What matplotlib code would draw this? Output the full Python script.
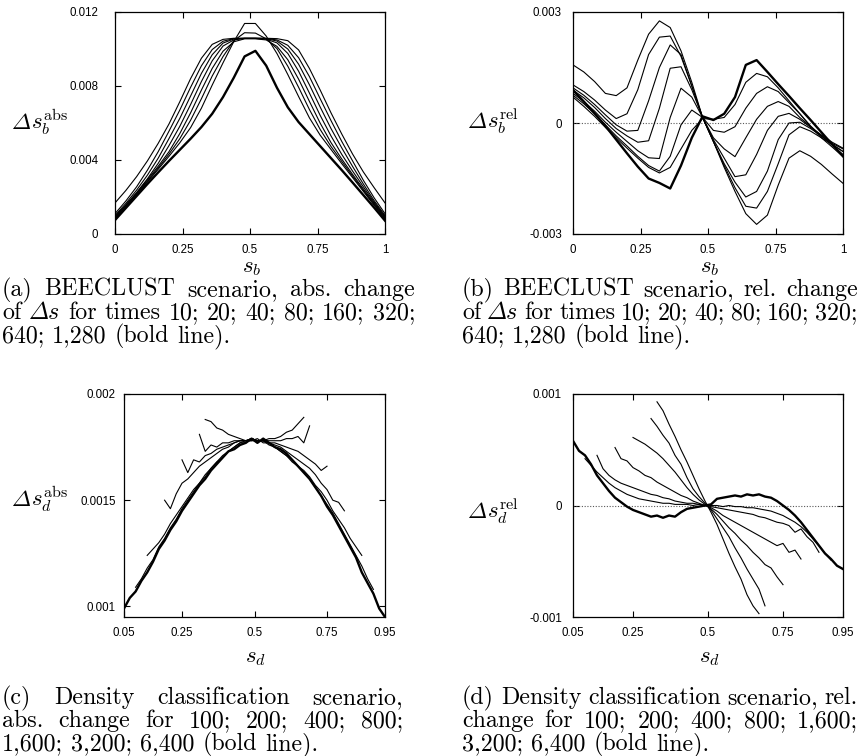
import matplotlib
matplotlib.use("Agg")
import matplotlib.pyplot as plt

plt.rcParams['mathtext.fontset'] = 'cm'
plt.rcParams['font.family'] = ['Liberation Sans', 'DejaVu Sans']

W, H = 861, 756

# ---- panel (a)/(b): BEECLUST, times 10 ... 1280 (last one bold)
s_b = [0.00, 0.04, 0.08, 0.12, 0.16, 0.20, 0.24, 0.28, 0.32, 0.36, 0.40, 0.44, 0.48,
       0.52, 0.56, 0.60, 0.64, 0.68, 0.72, 0.76, 0.80, 0.84, 0.88, 0.92, 0.96, 1.00]

abs_b_10 = [0.00168, 0.00235, 0.00310, 0.00395, 0.00490, 0.00595, 0.00715, 0.00840, 0.00950, 0.01025, 0.01052, 0.01058, 0.01058,
            0.01058, 0.01058, 0.01056, 0.01045, 0.00995, 0.00895, 0.00778, 0.00655, 0.00540, 0.00432, 0.00335, 0.00250, 0.00168]
abs_b_20 = [0.00110, 0.00178, 0.00255, 0.00345, 0.00445, 0.00556, 0.00670, 0.00793, 0.00909, 0.00997, 0.01042, 0.01056, 0.01058,
            0.01058, 0.01057, 0.01049, 0.01020, 0.00953, 0.00851, 0.00731, 0.00613, 0.00500, 0.00395, 0.00290, 0.00195, 0.00110]
abs_b_40 = [0.00100, 0.00165, 0.00237, 0.00318, 0.00410, 0.00516, 0.00625, 0.00746, 0.00868, 0.00969, 0.01032, 0.01054, 0.01058,
            0.01058, 0.01056, 0.01043, 0.01000, 0.00918, 0.00807, 0.00686, 0.00570, 0.00465, 0.00365, 0.00270, 0.00180, 0.00100]
abs_b_80 = [0.00095, 0.00157, 0.00224, 0.00298, 0.00382, 0.00478, 0.00582, 0.00700, 0.00824, 0.00936, 0.01016, 0.01049, 0.01057,
            0.01057, 0.01053, 0.01033, 0.00976, 0.00880, 0.00762, 0.00641, 0.00530, 0.00430, 0.00340, 0.00255, 0.00172, 0.00095]
abs_b_160 = [0.00090, 0.00155, 0.00222, 0.00293, 0.00366, 0.00445, 0.00543, 0.00655, 0.00778, 0.00895, 0.00988, 0.01039, 0.01055,
             0.01055, 0.01049, 0.01014, 0.00942, 0.00837, 0.00717, 0.00599, 0.00494, 0.00405, 0.00322, 0.00243, 0.00166, 0.00090]
abs_b_320 = [0.00085, 0.00150, 0.00217, 0.00286, 0.00357, 0.00432, 0.00515, 0.00615, 0.00731, 0.00854, 0.00959, 0.01045, 0.01088,
             0.01086, 0.01055, 0.01002, 0.00907, 0.00793, 0.00673, 0.00565, 0.00473, 0.00392, 0.00313, 0.00236, 0.00160, 0.00085]
abs_b_640 = [0.00080, 0.00146, 0.00213, 0.00281, 0.00350, 0.00420, 0.00493, 0.00575, 0.00680, 0.00805, 0.00925, 0.01040, 0.01138,
             0.01138, 0.01070, 0.00975, 0.00862, 0.00743, 0.00628, 0.00534, 0.00457, 0.00380, 0.00305, 0.00230, 0.00155, 0.00080]
abs_b_1280 = [0.00075, 0.00140, 0.00205, 0.00270, 0.00333, 0.00395, 0.00455, 0.00515, 0.00578, 0.00650, 0.00740, 0.00845, 0.00960,
              0.00990, 0.00910, 0.00790, 0.00685, 0.00605, 0.00540, 0.00475, 0.00410, 0.00345, 0.00278, 0.00210, 0.00142, 0.00072]

rel_b_10 = [0.00157, 0.00138, 0.00112, 0.00080, 0.00074, 0.00095, 0.00170, 0.00240, 0.00276, 0.00258, 0.00195, 0.00110, 0.00015,
            -0.00050, -0.00120, -0.00185, -0.00245, -0.00274, -0.00249, -0.00168, -0.00095, -0.00075, -0.00090, -0.00112, -0.00138, -0.00163]
rel_b_20 = [0.00103, 0.00085, 0.00062, 0.00035, 0.00012, 0.00025, 0.00090, 0.00185, 0.00232, 0.00235, 0.00180, 0.00100, 0.00015,
            -0.00050, -0.00115, -0.00175, -0.00225, -0.00230, -0.00185, -0.00110, -0.00032, -0.00010, -0.00022, -0.00040, -0.00058, -0.00077]
rel_b_40 = [0.00095, 0.00075, 0.00050, 0.00022, -0.00005, -0.00022, -0.00020, 0.00060, 0.00150, 0.00211, 0.00185, 0.00100, 0.00015,
            -0.00050, -0.00110, -0.00160, -0.00200, -0.00185, -0.00130, -0.00045, 0.00000, 0.00002, -0.00015, -0.00035, -0.00055, -0.00070]
rel_b_80 = [0.00089, 0.00068, 0.00042, 0.00012, -0.00015, -0.00035, -0.00052, -0.00048, 0.00040, 0.00148, 0.00152, 0.00090, 0.00015,
            -0.00045, -0.00095, -0.00145, -0.00140, -0.00085, -0.00020, 0.00018, 0.00026, 0.00010, -0.00012, -0.00032, -0.00052, -0.00068]
rel_b_160 = [0.00080, 0.00058, 0.00032, 0.00002, -0.00025, -0.00050, -0.00075, -0.00094, -0.00096, 0.00015, 0.00094, 0.00070, 0.00015,
             -0.00040, -0.00070, -0.00091, -0.00040, 0.00010, 0.00045, 0.00058, 0.00045, 0.00015, -0.00010, -0.00035, -0.00058, -0.00077]
rel_b_320 = [0.00075, 0.00052, 0.00025, -0.00005, -0.00035, -0.00062, -0.00090, -0.00115, -0.00130, -0.00090, -0.00005, 0.00035, 0.00015,
             -0.00020, -0.00025, -0.00010, 0.00040, 0.00080, 0.00098, 0.00085, 0.00055, 0.00025, -0.00008, -0.00035, -0.00060, -0.00085]
rel_b_640 = [0.00070, 0.00045, 0.00018, -0.00012, -0.00040, -0.00068, -0.00095, -0.00120, -0.00135, -0.00120, -0.00070, -0.00020, 0.00012,
             0.00010, 0.00015, 0.00050, 0.00110, 0.00134, 0.00125, 0.00095, 0.00060, 0.00025, -0.00010, -0.00040, -0.00065, -0.00091]
rel_b_1280 = [0.00089, 0.00058, 0.00026, -0.00008, -0.00045, -0.00082, -0.00118, -0.00150, -0.00162, -0.00177, -0.00115, -0.00040, 0.00018,
              0.00008, 0.00025, 0.00070, 0.00157, 0.00170, 0.00138, 0.00105, 0.00073, 0.00040, 0.00008, -0.00025, -0.00058, -0.00090]

# ---- panel (c)/(d): density classification, 100 ... 6400 (last one bold)
s_d = [0.05, 0.07, 0.09, 0.11, 0.13, 0.15, 0.17, 0.19, 0.21, 0.23, 0.25, 0.27, 0.29, 0.31, 0.33, 0.35,
       0.37, 0.39, 0.41, 0.43, 0.45, 0.47, 0.49, 0.51, 0.53, 0.55, 0.57, 0.59, 0.61, 0.63, 0.65, 0.67,
       0.69, 0.71, 0.73, 0.75, 0.77, 0.79, 0.81, 0.83, 0.85, 0.87, 0.89, 0.91, 0.93, 0.95]
# first index into s_d for each run
start_d = {100: 14, 200: 13, 400: 10, 800: 7, 1600: 4, 3200: 2, 6400: 0}

abs_d = {
    100: [0.00188, 0.00187, 0.00184, 0.00183, 0.00181, 0.00180, 0.00179, 0.00178, 0.00178, 0.00178, 0.00178,
          0.00179, 0.00179, 0.00180, 0.00182, 0.00183, 0.00186, 0.00189],
    200: [0.00181, 0.00173, 0.00176, 0.00175, 0.00177, 0.00177, 0.00178, 0.00178, 0.00178, 0.00179, 0.00178,
          0.00178, 0.00178, 0.00178, 0.00178, 0.00179, 0.00179, 0.00180, 0.00177, 0.00185],
    400: [0.00169, 0.00163, 0.00169, 0.00168, 0.00171, 0.00172, 0.00174, 0.00175, 0.00176, 0.00177, 0.00178,
          0.00178, 0.00179, 0.00178, 0.00178, 0.00177, 0.00177, 0.00176, 0.00175, 0.00174, 0.00173, 0.00171,
          0.00169, 0.00167, 0.00164, 0.00166],
    800: [0.00150, 0.00146, 0.00153, 0.00158, 0.00160, 0.00163, 0.00166, 0.00168, 0.00170, 0.00172, 0.00174,
          0.00175, 0.00177, 0.00178, 0.00178, 0.00179, 0.00178, 0.00178, 0.00177, 0.00176, 0.00175, 0.00173,
          0.00171, 0.00169, 0.00167, 0.00165, 0.00162, 0.00158, 0.00155, 0.00150, 0.00149, 0.00145],
    1600: [0.00124, 0.00127, 0.00130, 0.00134, 0.00139, 0.00143, 0.00147, 0.00151, 0.00155, 0.00158, 0.00162,
           0.00165, 0.00168, 0.00171, 0.00173, 0.00175, 0.00177, 0.00178, 0.00178, 0.00179, 0.00177, 0.00177,
           0.00175, 0.00173, 0.00171, 0.00169, 0.00166, 0.00164, 0.00161, 0.00157, 0.00154, 0.00150, 0.00145,
           0.00141, 0.00137, 0.00132, 0.00128, 0.00124],
    3200: [0.00109, 0.00113, 0.00118, 0.00122, 0.00128, 0.00132, 0.00137, 0.00141, 0.00146, 0.00150, 0.00154,
           0.00158, 0.00161, 0.00165, 0.00168, 0.00170, 0.00173, 0.00175, 0.00177, 0.00177, 0.00179, 0.00178,
           0.00178, 0.00176, 0.00175, 0.00173, 0.00171, 0.00168, 0.00166, 0.00163, 0.00160, 0.00156, 0.00152,
           0.00148, 0.00144, 0.00139, 0.00134, 0.00129, 0.00124, 0.00119, 0.00113, 0.00108],
    6400: [0.00099, 0.00104, 0.00107, 0.00112, 0.00116, 0.00121, 0.00127, 0.00131, 0.00136, 0.00140, 0.00145,
           0.00149, 0.00153, 0.00157, 0.00160, 0.00164, 0.00167, 0.00170, 0.00173, 0.00174, 0.00176, 0.00177,
           0.00179, 0.00177, 0.00179, 0.00177, 0.00175, 0.00174, 0.00172, 0.00169, 0.00166, 0.00163, 0.00160,
           0.00156, 0.00152, 0.00147, 0.00143, 0.00138, 0.00133, 0.00128, 0.00123, 0.00116, 0.00111, 0.00106,
           0.00099, 0.00095],
}

rel_d = {
    100: [0.00093, 0.00085, 0.00073, 0.00062, 0.00050, 0.00039, 0.00027, 0.00015, 0.00004, -0.00006, -0.00017,
          -0.00030, -0.00043, -0.00055, -0.00066, -0.00080, -0.00090, -0.00097],
    200: [0.00078, 0.00071, 0.00063, 0.00056, 0.00045, 0.00037, 0.00025, 0.00015, 0.00008, 0.00002, -0.00004,
          -0.00012, -0.00020, -0.00028, -0.00038, -0.00047, -0.00057, -0.00066, -0.00075, -0.00090],
    400: [0.00061, 0.00058, 0.00055, 0.00051, 0.00047, 0.00042, 0.00036, 0.00030, 0.00023, 0.00016, 0.00010,
          0.00005, 0.00001, -0.00003, -0.00008, -0.00014, -0.00020, -0.00025, -0.00031, -0.00036, -0.00042,
          -0.00047, -0.00053, -0.00056, -0.00064, -0.00071],
    800: [0.00052, 0.00042, 0.00040, 0.00034, 0.00031, 0.00027, 0.00025, 0.00021, 0.00018, 0.00015, 0.00012,
          0.00009, 0.00007, 0.00004, 0.00002, 0.00000, -0.00002, -0.00005, -0.00009, -0.00012, -0.00015, -0.00018,
          -0.00021, -0.00024, -0.00027, -0.00030, -0.00033, -0.00036, -0.00034, -0.00042, -0.00040, -0.00048],
    1600: [0.00045, 0.00033, 0.00027, 0.00023, 0.00020, 0.00018, 0.00016, 0.00014, 0.00012, 0.00010, 0.00009,
           0.00007, 0.00006, 0.00004, 0.00003, 0.00002, 0.00002, 0.00001, 0.00000, -0.00001, -0.00002, -0.00003,
           -0.00004, -0.00005, -0.00006, -0.00007, -0.00008, -0.00010, -0.00011, -0.00013, -0.00015, -0.00016,
           -0.00018, -0.00024, -0.00021, -0.00028, -0.00033, -0.00042],
    3200: [0.00042, 0.00036, 0.00030, 0.00025, 0.00020, 0.00016, 0.00013, 0.00010, 0.00008, 0.00006, 0.00005,
           0.00004, 0.00003, 0.00002, 0.00002, 0.00001, 0.00001, 0.00001, 0.00000, 0.00001, 0.00000, 0.00000,
           0.00000, -0.00001, 0.00000, -0.00001, -0.00001, -0.00002, -0.00002, -0.00003, -0.00004, -0.00005,
           -0.00007, -0.00009, -0.00012, -0.00015, -0.00019, -0.00024, -0.00030, -0.00036, -0.00043, -0.00049],
    6400: [0.00058, 0.00049, 0.00045, 0.00037, 0.00027, 0.00020, 0.00013, 0.00007, 0.00003, -0.00001, -0.00004,
           -0.00006, -0.00008, -0.00010, -0.00009, -0.00011, -0.00009, -0.00010, -0.00006, -0.00003, -0.00002,
           -0.00001, 0.00000, 0.00001, 0.00006, 0.00007, 0.00008, 0.00009, 0.00008, 0.00010, 0.00009, 0.00010,
           0.00008, 0.00007, 0.00004, 0.00000, -0.00004, -0.00009, -0.00015, -0.00022, -0.00029, -0.00036,
           -0.00043, -0.00048, -0.00054, -0.00057],
}

abs_b = [abs_b_10, abs_b_20, abs_b_40, abs_b_80, abs_b_160, abs_b_320, abs_b_640, abs_b_1280]
rel_b = [rel_b_10, rel_b_20, rel_b_40, rel_b_80, rel_b_160, rel_b_320, rel_b_640, rel_b_1280]

THIN, BOLD = 0.8, 1.7
DELTA = '\u00a2'   # slot of the italic capital Delta in the bundled cmmi10 font


def px_axes(fig, x0, y0, x1, y1):
    # axes box given in pixel coords (top-left origin)
    return fig.add_axes([x0 / W, 1 - y1 / H, (x1 - x0) / W, (y1 - y0) / H])


def style(ax, pad):
    for sp in ax.spines.values():
        sp.set_linewidth(0.9)
    ax.tick_params(direction='in', top=True, right=True, length=4, width=0.8,
                   labelsize=8.3, pad=pad)
    ax.tick_params(axis='x', pad=7)


fig = plt.figure(figsize=(W / 100, H / 100), dpi=100)

# (a)
ax = px_axes(fig, 115, 12, 385, 234)
for i, ys in enumerate(abs_b):
    ax.plot(s_b, ys, color='black', lw=BOLD if i == len(abs_b) - 1 else THIN)
ax.set_xlim(0, 1)
ax.set_ylim(0, 0.012)
ax.set_xticks([0, 0.25, 0.5, 0.75, 1])
ax.set_xticklabels(['0', '0.25', '0.5', '0.75', '1'])
ax.set_yticks([0, 0.004, 0.008, 0.012])
ax.set_yticklabels(['0', '0.004', '0.008', '0.012'])
style(ax, 12)

# (b)
ax = px_axes(fig, 573, 12, 843, 234)
ax.axhline(0, color='0.35', lw=0.8, ls=(0, (1, 1.5)))
for i, ys in enumerate(rel_b):
    ax.plot(s_b, ys, color='black', lw=BOLD if i == len(rel_b) - 1 else THIN)
ax.set_xlim(0, 1)
ax.set_ylim(-0.003, 0.003)
ax.set_xticks([0, 0.25, 0.5, 0.75, 1])
ax.set_xticklabels(['0', '0.25', '0.5', '0.75', '1'])
ax.set_yticks([-0.003, 0, 0.003])
ax.set_yticklabels(['-0.003', '0', '0.003'])
style(ax, 8)

# (c)
ax = px_axes(fig, 124, 394, 385, 617)
for n, ys in abs_d.items():
    k = start_d[n]
    ax.plot(s_d[k:k + len(ys)], ys, color='black', lw=BOLD if n == 6400 else THIN)
ax.set_xlim(0.05, 0.95)
ax.set_ylim(0.00095, 0.002)
ax.set_xticks([0.05, 0.25, 0.5, 0.75, 0.95])
ax.set_xticklabels(['0.05', '0.25', '0.5', '0.75', '0.95'])
ax.set_yticks([0.001, 0.0015, 0.002])
ax.set_yticklabels(['0.001', '0.0015', '0.002'])
style(ax, 6)

# (d)
ax = px_axes(fig, 573, 394, 843, 617)
ax.axhline(0, color='0.35', lw=0.8, ls=(0, (1, 1.5)))
for n, ys in rel_d.items():
    k = start_d[n]
    ax.plot(s_d[k:k + len(ys)], ys, color='black', lw=BOLD if n == 6400 else THIN)
ax.set_xlim(0.05, 0.95)
ax.set_ylim(-0.001, 0.001)
ax.set_xticks([0.05, 0.25, 0.5, 0.75, 0.95])
ax.set_xticklabels(['0.05', '0.25', '0.5', '0.75', '0.95'])
ax.set_yticks([-0.001, 0, 0.001])
ax.set_yticklabels(['-0.001', '0', '0.001'])
style(ax, 8)


def ftext(x, y, s, **kw):
    return fig.text(x / W, 1 - y / H, s, **kw)


renderer = fig.canvas.get_renderer()


def width_of(t):
    return t.get_window_extent(renderer).width


# axis labels: italic Delta from cmmi10 followed by the math part
LAB = 16.5


def delta_label(x, y, sub, sup):
    d = ftext(x, y, DELTA, fontsize=LAB, family='cmmi10', va='baseline')
    ftext(x + width_of(d), y, r'$s_%s^{\rm %s}$' % (sub, sup), fontsize=LAB, va='baseline')


delta_label(12, 129, 'b', 'abs')
delta_label(468, 128, 'b', 'rel')
delta_label(12, 506, 'd', 'abs')
delta_label(468, 518, 'd', 'rel')
ftext(252, 266, r'$s_b$', fontsize=LAB, ha='center', va='center')
ftext(710, 266, r'$s_b$', fontsize=LAB, ha='center', va='center')
ftext(256, 657, r'$s_d$', fontsize=LAB, ha='center', va='center')
ftext(710, 657, r'$s_d$', fontsize=LAB, ha='center', va='center')


# captions, first two lines justified like in the paper
def word_text(w, size):
    if w == 'DS':
        return ftext(0, 0, DELTA + 's', fontsize=size, family='cmmi10', va='baseline')
    return ftext(0, 0, w, fontsize=size, family='cmr10', va='baseline')


def natural_width(text, size):
    ws = [word_text(w, size) for w in text.split(' ')]
    total = sum(width_of(t) for t in ws)
    for t in ws:
        t.remove()
    return total + (len(ws) - 1) * size * 100 / 72 * 0.333


# font size chosen so the un-stretched lines of (b) and (d) fill their column
ref = 0.5 * (natural_width('(b) BEECLUST scenario, rel. change', 10) +
             natural_width('(d) Density classification scenario, rel.', 10))
CAP = 10 * 396 / ref


def caption_line(text, x0, x1, y, justify):
    parts = [word_text(w, CAP) for w in text.split(' ')]
    widths = [width_of(p) for p in parts]
    gap = CAP * 100 / 72 * 0.333
    if justify and len(parts) > 1:
        gap = (x1 - x0 - sum(widths)) / (len(parts) - 1)
    x = x0
    for p, w in zip(parts, widths):
        p.set_position((x / W, 1 - y / H))
        x += w + gap


captions = [
    (2, 415, [296, 319, 342], ['(a) BEECLUST scenario, abs. change',
                               'of DS for times 10; 20; 40; 80; 160; 320;',
                               '640; 1,280 (bold line).']),
    (462, 858, [296, 319, 342], ['(b) BEECLUST scenario, rel. change',
                                 'of DS for times 10; 20; 40; 80; 160; 320;',
                                 '640; 1,280 (bold line).']),
    (2, 403, [704, 727, 750], ['(c) Density classification scenario,',
                               'abs. change for 100; 200; 400; 800;',
                               '1,600; 3,200; 6,400 (bold line).']),
    (462, 858, [704, 727, 750], ['(d) Density classification scenario, rel.',
                                 'change for 100; 200; 400; 800; 1,600;',
                                 '3,200; 6,400 (bold line).']),
]
for x0, x1, ys, lines in captions:
    for j, (y, line) in enumerate(zip(ys, lines)):
        caption_line(line, x0, x1, y, j < 2)

fig.savefig('out.png', dpi=100)
